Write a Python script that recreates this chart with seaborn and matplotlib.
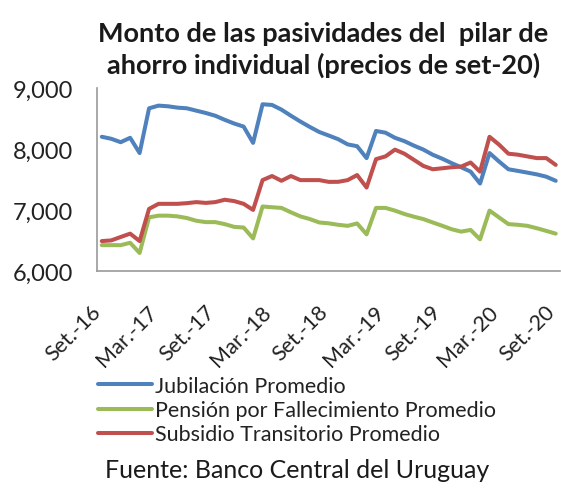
import numpy as np
import pandas as pd
import seaborn as sns
import matplotlib.pyplot as plt
from matplotlib.transforms import ScaledTranslation

# datos mensuales set-16 a set-20 (precios de set-20)
jubilacion = [8200, 8167, 8111, 8183, 7933, 8667, 8711, 8700, 8678, 8667,
              8628, 8590, 8545, 8478, 8417, 8367, 8100, 8733, 8722, 8645,
              8545, 8450, 8361, 8278, 8220, 8160, 8075, 8045, 7850, 8295,
              8267, 8183, 8128, 8055, 7990, 7905, 7840, 7767, 7700, 7628,
              7433, 7933, 7795, 7667, 7640, 7612, 7583, 7545, 7478]
pension = [6422, 6422, 6422, 6461, 6294, 6878, 6906, 6906, 6894, 6867,
           6822, 6800, 6800, 6767, 6722, 6711, 6533, 7056, 7044, 7033,
           6961, 6894, 6850, 6794, 6780, 6756, 6739, 6778, 6600, 7033,
           7033, 6989, 6933, 6889, 6850, 6794, 6740, 6683, 6644, 6672,
           6517, 6989, 6878, 6767, 6756, 6739, 6700, 6656, 6611]
subsidio = [6489, 6500, 6556, 6611, 6489, 7017, 7100, 7100, 7100, 7111,
            7128, 7115, 7128, 7167, 7145, 7100, 7000, 7489, 7556, 7478,
            7556, 7489, 7489, 7489, 7460, 7461, 7489, 7572, 7367, 7833,
            7878, 7989, 7922, 7822, 7722, 7667, 7683, 7700, 7711, 7778,
            7628, 8200, 8072, 7922, 7906, 7878, 7850, 7850, 7739]
etiquetas = ["Set.-16", "Mar.-17", "Set.-17", "Mar.-18", "Set.-18",
             "Mar.-19", "Set.-19", "Mar.-20", "Set.-20"]
series = ["Jubilación Promedio", "Pensión por Fallecimiento Promedio",
          "Subsidio Transitorio Promedio"]

mes = np.arange(len(jubilacion))
df = pd.DataFrame({"mes": np.tile(mes, 3),
                   "monto": jubilacion + pension + subsidio,
                   "serie": np.repeat(series, len(mes))})

sns.set_style("white")
plt.rcParams["font.family"] = ["Lato", "DejaVu Sans"]

fig = plt.figure(figsize=(5.61, 4.89), dpi=100)
ax = fig.add_axes([0.173, 0.444, 0.826, 0.374])

colores = ["#4F81BD", "#9BBB59", "#C0504D"]
sns.lineplot(data=df, x="mes", y="monto", hue="serie", hue_order=series,
             palette=colores, linewidth=2.9, ax=ax, legend=False)

ax.set_xlim(-0.5, len(mes) - 0.5)
ax.set_ylim(6000, 9000)
ax.set_yticks([6000, 7000, 8000, 9000])
ax.set_yticklabels(["6,000", "7,000", "8,000", "9,000"], fontsize=17, color="#222222")
ax.set_xticks(mes[::6])
ax.set_xticklabels(etiquetas, rotation=45, ha="right", va="center",
                   rotation_mode="anchor", fontsize=15.5, color="#222222")
ax.tick_params(axis="y", length=0, pad=17)
ax.tick_params(axis="x", length=0, pad=27)
desplazar = ScaledTranslation(-4 / 100, 0, fig.dpi_scale_trans)
for lab in ax.get_xticklabels():
    lab.set_transform(lab.get_transform() + desplazar)
ax.set_xlabel("")
ax.set_ylabel("")
for s in ["top", "right"]:
    ax.spines[s].set_visible(False)
for s in ["left", "bottom"]:
    ax.spines[s].set_color("#9a9a9a")
    ax.spines[s].set_linewidth(1.2)

fig.text(0.576, 0.898, "Monto de las pasividades del  pilar de\nahorro individual (precios de set-20)",
         ha="center", va="center", fontsize=19.5, fontweight="bold",
         linespacing=1.33, color="#1a1a1a")

handles = [plt.Line2D([], [], color=c, linewidth=2.9) for c in colores]
fig.legend(handles, series, loc="upper left", bbox_to_anchor=(0.175, 0.229),
           frameon=False, fontsize=15.5, handlelength=2.5, handletextpad=0.15,
           labelspacing=0.19, borderpad=0, borderaxespad=0,
           labelcolor="#222222")

fig.text(0.187, 0.037, "Fuente: Banco Central del Uruguay", fontsize=18,
         ha="left", va="center", color="#1a1a1a")

fig.savefig("out.png", dpi=100)
